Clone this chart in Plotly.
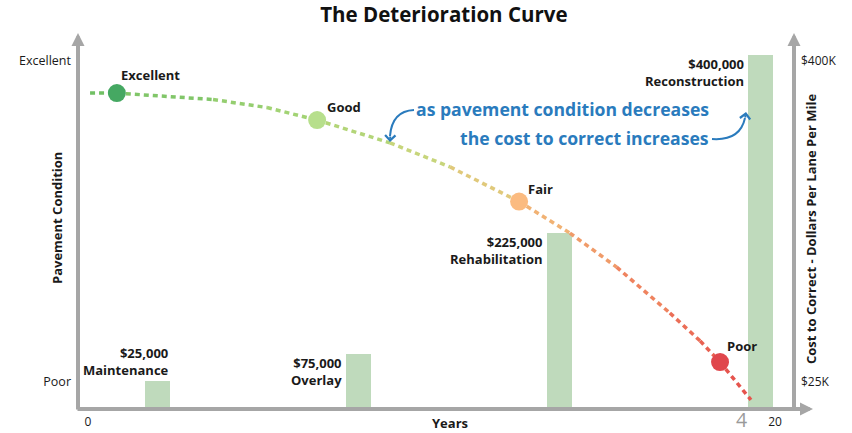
import plotly.graph_objects as go

# ---------------- data ----------------
curve_years = [0.06, 0.84, 3.64, 5.21, 6.67, 8.79, 10.54, 12.55,
               14.03, 15.39, 16.94, 17.82, 18.40, 19.30]
curve_condition = [90.0, 90.0, 88.0, 85.5, 81.6, 74.5, 67.0, 56.2,
                   46.4, 35.8, 21.5, 12.8, 6.2, -5.6]

stage_names = ["Excellent", "Good", "Fair", "Poor"]
stage_years = [0.84, 6.67, 12.55, 18.40]
stage_condition = [90.0, 81.6, 56.2, 6.2]

treatment_names = ["Maintenance", "Overlay", "Rehabilitation", "Reconstruction"]
treatment_cost_labels = ["$25,000", "$75,000", "$225,000", "$400,000"]
treatment_years = [2.02, 7.87, 13.73, 19.59]
treatment_bar_height_k = [26.2, 57.7, 199.1, 407.0]

condition_tick_vals = [0, 100]
condition_tick_text = ["Poor", "Excellent"]
cost_tick_vals = [25, 400]
cost_tick_text = ["$25K", "$400K"]
year_tick_vals = [0, 20]
year_tick_text = ["0", "20"]

# ---------------- styles ----------------
FONT = "Open Sans"
DARK = "#1a1a1a"
GRAY = "#a6a6a6"
BLUE = "#2a7bbd"
BAR_COLOR = "#bfdabc"
stage_colors = ["#45a862", "#b7df8c", "#fbbb80", "#e0474c"]

X_RANGE = [-0.291, 20.553]
COND_RANGE = [-8.41, 108.72]
COST_RANGE = [-6.54, 432.7]
BAR_WIDTH = 0.73

W, H = 852, 433
ML, MR, MT, MB = 78, 58, 33, 24
PW, PH = W - ML - MR, H - MT - MB


def px(x):
    return (x - ML) / PW


def py(y):
    return (MT + PH - y) / PH


def lerp_color(c1, c2, t):
    a = [int(c1[i:i + 2], 16) for i in (1, 3, 5)]
    b = [int(c2[i:i + 2], 16) for i in (1, 3, 5)]
    return "#" + "".join(f"{round(a[k] + (b[k] - a[k]) * t):02x}" for k in range(3))


grad_stops = [(0.0, "#6dbf63"), (6.7, "#a9d576"), (10.5, "#cfd57d"),
              (12.6, "#f1bd79"), (16.0, "#f08660"), (19.3, "#e44c4a")]


def grad(x):
    for (x0, c0), (x1, c1) in zip(grad_stops[:-1], grad_stops[1:]):
        if x <= x1:
            return lerp_color(c0, c1, max(0.0, (x - x0) / (x1 - x0)))
    return grad_stops[-1][1]


fig = go.Figure()

# bars (cost axis = primary y, drawn below)
fig.add_trace(go.Bar(
    x=treatment_years,
    y=[h - COST_RANGE[0] for h in treatment_bar_height_k],
    base=COST_RANGE[0],
    width=BAR_WIDTH,
    marker=dict(color=BAR_COLOR, line=dict(width=0)),
    yaxis="y", hoverinfo="skip", showlegend=False,
))

# gradient dotted curve (condition axis = y2, drawn on top)
for i in range(len(curve_years) - 1):
    xm = (curve_years[i] + curve_years[i + 1]) / 2
    fig.add_trace(go.Scatter(
        x=curve_years[i:i + 2], y=curve_condition[i:i + 2],
        mode="lines", yaxis="y2",
        line=dict(color=grad(xm), width=3.5, dash="5px,4px"),
        hoverinfo="skip", showlegend=False,
    ))

fig.add_trace(go.Scatter(
    x=stage_years, y=stage_condition, mode="markers", yaxis="y2",
    marker=dict(size=18, color=stage_colors, line=dict(width=0)),
    showlegend=False, hoverinfo="skip",
))

annotations = []

# stage labels
stage_shift = [(2, 18), (8, 13), (7, 13), (5, 16)]
for name, xv, yv, (sx, sy) in zip(stage_names, stage_years, stage_condition, stage_shift):
    annotations.append(dict(
        x=xv, y=yv, xref="x", yref="y2", text=f"<b>{name}</b>", showarrow=False,
        xanchor="left", yanchor="middle", xshift=sx, yshift=sy,
        font=dict(family=FONT, size=13, color=DARK)))

# treatment labels
for i, (name, cost, xv, h) in enumerate(zip(treatment_names, treatment_cost_labels,
                                            treatment_years, treatment_bar_height_k)):
    if i == 0:
        annotations.append(dict(
            x=xv + BAR_WIDTH / 2, y=h, xref="x", yref="y",
            text=f"<b>{cost}<br>{name}</b>", showarrow=False, align="right",
            xanchor="right", yanchor="bottom", xshift=1, yshift=0,
            font=dict(family=FONT, size=13, color=DARK)))
    else:
        annotations.append(dict(
            x=xv - BAR_WIDTH / 2, y=h, xref="x", yref="y",
            text=f"<b>{cost}<br>{name}</b>", showarrow=False, align="right",
            xanchor="right", yanchor="top", xshift=-2, yshift=2,
            font=dict(family=FONT, size=13, color=DARK)))

# axis arrows
arrow_style = dict(showarrow=True, arrowhead=2, arrowsize=0.65, arrowwidth=4,
                   arrowcolor=GRAY, text="", xref="paper", yref="paper",
                   axref="pixel", ayref="pixel")
annotations.append(dict(x=0, y=py(33), ax=0, ay=378, **arrow_style))
annotations.append(dict(x=1, y=py(33), ax=0, ay=378, **arrow_style))
annotations.append(dict(x=px(813), y=py(409), ax=-737, ay=0, **arrow_style))


def paper_text(x, y, text, size, color=DARK, angle=0, xanchor="center"):
    return dict(x=px(x), y=py(y), xref="paper", yref="paper", text=text,
                textangle=angle, showarrow=False, xanchor=xanchor, yanchor="middle",
                font=dict(family=FONT, size=size, color=color))


# axis titles
annotations.append(paper_text(57, 218, "<b>Pavement Condition</b>", 13, angle=-90))
annotations.append(paper_text(811, 229, "<b>Cost to Correct - Dollars Per Lane Per Mile</b>",
                              13, angle=-90))
annotations.append(paper_text(450, 423.5, "<b>Years</b>", 13))
annotations.append(paper_text(741, 419, "4", 19.5, color="#9a9a9a"))

# blue callout text
annotations.append(paper_text(711, 109, "<b>as pavement condition decreases</b>", 17.6,
                              color=BLUE, xanchor="right"))
annotations.append(paper_text(711, 138, "<b>the cost to correct increases</b>", 17.6,
                              color=BLUE, xanchor="right"))

# blue arrowheads
blue_head = dict(showarrow=True, arrowhead=4, arrowsize=1.0, arrowwidth=2,
                 arrowcolor=BLUE, text="", xref="paper", yref="paper",
                 axref="pixel", ayref="pixel")
annotations.append(dict(x=px(390), y=py(142), ax=0.3, ay=-7, **blue_head))
annotations.append(dict(x=px(746), y=py(112), ax=-1, ay=7, **blue_head))

shapes = [
    dict(type="path", xref="paper", yref="paper",
         path=f"M {px(414)},{py(110)} Q {px(392)},{py(111)} {px(390)},{py(136)}",
         line=dict(color=BLUE, width=2)),
    dict(type="path", xref="paper", yref="paper",
         path=f"M {px(712)},{py(139)} Q {px(740)},{py(141)} {px(745)},{py(118)}",
         line=dict(color=BLUE, width=2)),
]

fig.update_layout(
    width=W, height=H,
    margin=dict(l=ML, r=MR, t=MT, b=MB, pad=0, autoexpand=False),
    paper_bgcolor="white", plot_bgcolor="white",
    font=dict(family=FONT, color=DARK),
    title=dict(text="<b>The Deterioration Curve</b>", x=0.521, y=1 - 15 / H,
               xanchor="center", yanchor="middle",
               font=dict(family=FONT, size=20.5, color="#111111")),
    showlegend=False,
    bargap=0,
    xaxis=dict(range=X_RANGE, showgrid=False, zeroline=False, showline=False,
               tickvals=year_tick_vals, ticktext=year_tick_text, ticks="",
               ticklabelstandoff=4, automargin=False,
               tickfont=dict(family=FONT, size=12, color=DARK), fixedrange=True),
    yaxis=dict(range=COST_RANGE, side="right", showgrid=False, zeroline=False,
               showline=False, tickvals=cost_tick_vals, ticktext=cost_tick_text,
               ticks="", ticklabelstandoff=6, automargin=False,
               tickfont=dict(family=FONT, size=12, color=DARK)),
    yaxis2=dict(range=COND_RANGE, side="left", overlaying="y", showgrid=False,
                zeroline=False, showline=False, tickvals=condition_tick_vals,
                ticktext=condition_tick_text, ticks="", ticklabelstandoff=6,
                automargin=False,
                tickfont=dict(family=FONT, size=12.5, color=DARK)),
    annotations=annotations,
    shapes=shapes,
)

fig.write_html(
    "out.html",
    config={"displayModeBar": False},
    post_script="document.body.style.margin='0px';document.body.style.overflow='hidden';",
)
